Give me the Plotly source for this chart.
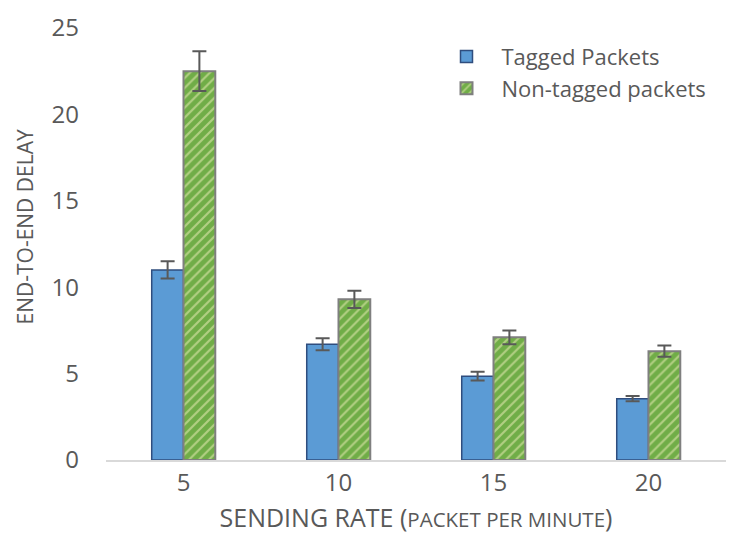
import plotly.graph_objects as go

categories = ["5", "10", "15", "20"]
tagged = [11.0, 6.7, 4.85, 3.55]
tagged_err = [0.5, 0.35, 0.25, 0.15]
nontagged = [22.5, 9.3, 7.1, 6.3]
nontagged_err = [1.15, 0.5, 0.4, 0.33]
y_ticks = [0, 5, 10, 15, 20, 25]

font_family = "Open Sans"
text_color = "#595959"

fig = go.Figure()
fig.add_trace(go.Bar(
    x=categories, y=tagged, name="Tagged Packets",
    marker=dict(color="#5B9BD5", line=dict(color="#2F4D7E", width=1.5)),
    error_y=dict(type="data", array=tagged_err, color="#595959", thickness=2, width=7),
))
fig.add_trace(go.Bar(
    x=categories, y=nontagged, name="Non-tagged packets",
    marker=dict(color="#70AD47", line=dict(color="#7F7F7F", width=2),
                pattern=dict(shape="/", fgcolor="#F4F1C0", size=7, solidity=0.3, fillmode="overlay")),
    error_y=dict(type="data", array=nontagged_err, color="#595959", thickness=2, width=7),
))

fig.update_layout(
    width=736, height=546,
    margin=dict(l=106, r=10, t=21, b=86),
    plot_bgcolor="white", paper_bgcolor="white",
    barmode="group", bargap=0.59, bargroupgap=0,
    font=dict(family=font_family, color=text_color, size=24),
    legend=dict(x=0.525, y=0.982, xanchor="left", yanchor="top",
                font=dict(size=22, color=text_color), bgcolor="rgba(0,0,0,0)",
                tracegroupgap=0, itemwidth=60),
    showlegend=True,
    annotations=[dict(text="END-TO-END DELAY", textangle=-90, xref="paper", yref="paper",
                      x=-0.131, y=0.54, xanchor="center", yanchor="middle", showarrow=False,
                      font=dict(size=21, color=text_color))],
)
fig.update_xaxes(
    showline=True, linecolor="#D9D9D9", linewidth=2, showgrid=False, ticks="",
    tickfont=dict(size=24, color=text_color),
    title=dict(text="SENDING RATE (<span style='font-size:20.5px'>PACKET PER MINUTE</span>)",
               font=dict(size=25, color=text_color), standoff=13),
)
fig.update_yaxes(
    range=[0, 25], tickvals=y_ticks, showgrid=False, zeroline=False, showline=False, ticks="",
    tickfont=dict(size=24, color=text_color), ticklabelstandoff=26,
)

fig.write_html("out.html", config={"displayModeBar": False},
               post_script="document.body.style.margin='0';document.body.style.padding='0';")
